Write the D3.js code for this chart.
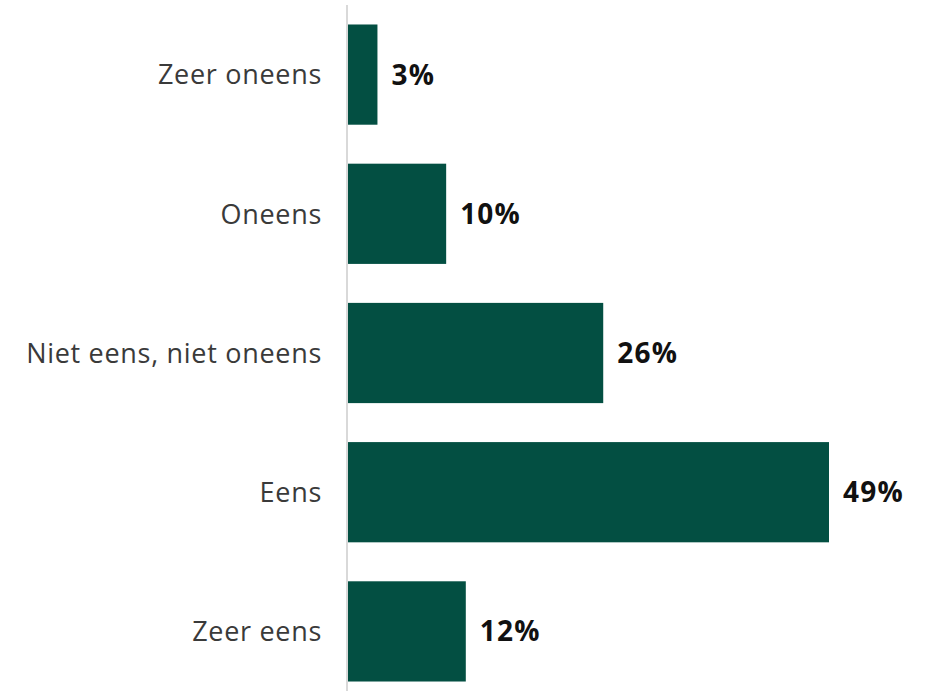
<!DOCTYPE html>
<html>
<head>
<meta charset="utf-8">
<script src="https://cdn.jsdelivr.net/npm/d3@7"></script>
<style>
  body { margin: 0; background: #fff; }
  svg { display: block; }
</style>
</head>
<body>
<svg id="chart" width="931" height="691"></svg>
<script>
const categories = ['Zeer oneens', 'Oneens', 'Niet eens, niet oneens', 'Eens', 'Zeer eens'];
const values = [3, 10, 26, 49, 12];

const svg = d3.select('#chart');

const x = d3.scaleLinear().domain([0, 49]).range([348, 829]);

const y = d3.scaleBand()
  .domain(categories)
  .range([5, 701])
  .paddingInner(0.28)
  .paddingOuter(0.14);

// bars
svg.selectAll('.bar')
  .data(values)
  .enter()
  .append('rect')
  .attr('x', x(0))
  .attr('y', (d, i) => y(categories[i]))
  .attr('width', d => x(d) - x(0))
  .attr('height', y.bandwidth())
  .attr('fill', '#034f42');

// vertical axis line
svg.append('line')
  .attr('x1', 347).attr('x2', 347)
  .attr('y1', 5).attr('y2', 691)
  .attr('stroke', '#d9d9d9')
  .attr('stroke-width', 2);

// category labels
svg.selectAll('.cat')
  .data(categories)
  .enter()
  .append('text')
  .attr('x', 322)
  .attr('y', d => y(d) + y.bandwidth() / 2)
  .attr('dy', '0.36em')
  .attr('text-anchor', 'end')
  .attr('font-family', 'Open Sans, sans-serif')
  .attr('font-size', 27)
  .attr('letter-spacing', 0.7)
  .attr('fill', '#3a3a3a')
  .text(d => d);

// value labels
svg.selectAll('.val')
  .data(values)
  .enter()
  .append('text')
  .attr('x', d => x(d) + 14)
  .attr('y', (d, i) => y(categories[i]) + y.bandwidth() / 2)
  .attr('dy', '0.36em')
  .attr('font-family', 'Open Sans, sans-serif')
  .attr('font-size', 28)
  .attr('font-weight', 'bold')
  .attr('letter-spacing', 1.2)
  .attr('fill', '#111')
  .text(d => d + '%');
</script>
</body>
</html>
